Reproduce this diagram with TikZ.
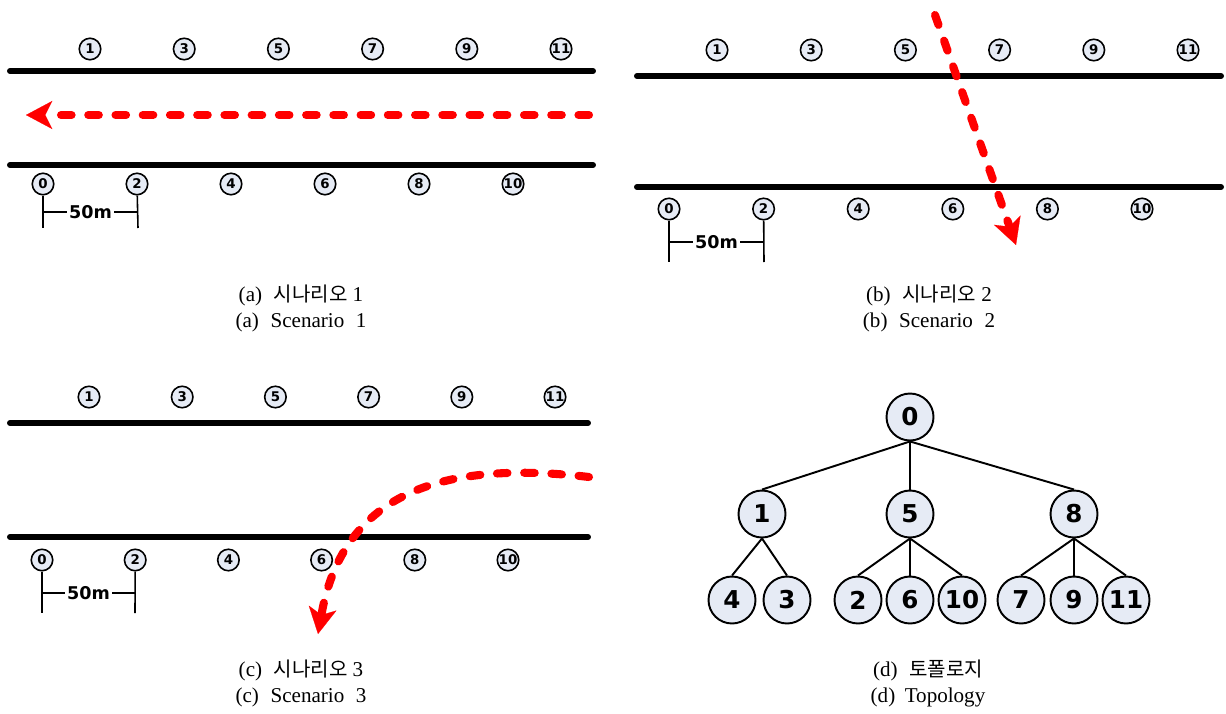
\documentclass[tikz,border=0pt]{standalone}
\usepackage{fontspec}
\setmainfont{Liberation Serif}
\newfontfamily\krfont[Scale=0.95]{Noto Sans CJK KR}
\newfontfamily\numfont{DejaVu Sans}
\usetikzlibrary{arrows.meta}
\definecolor{nodefill}{RGB}{230,235,245}
\tikzset{road/.style={line width=3.4pt,line cap=round},
        sta/.style={draw,circle,fill=nodefill,line width=0.9pt,inner sep=0pt,minimum size=0.43cm,
                    font=\numfont\bfseries\fontsize{7.6}{7.6}\selectfont},
        tnode/.style={draw,circle,fill=nodefill,line width=1.1pt,inner sep=0pt,minimum size=0.94cm,
                    font=\numfont\bfseries\fontsize{14}{14}\selectfont},
        tedge/.style={line width=1.1pt},
        route/.style={red,line width=4.6pt,line cap=round,dash pattern=on 6pt off 9.5pt,
                    -{Stealth[length=15pt,width=16pt,inset=4pt,line width=0.1pt]}},
        scalebar/.style={line width=0.9pt},
        barlabel/.style={fill=white,inner sep=1pt,font=\numfont\bfseries\fontsize{10}{10}\selectfont},
        caption/.style={align=center,font=\fontsize{12}{14.8}\selectfont}
        }

\begin{document}
\begin{tikzpicture}[x=0.02cm,y=-0.02cm]
    \useasboundingbox (0,0) rectangle (1226,713);

    % (a) 场景 1: 道路与两排节点
    \draw[road] (10,71) -- (593,71);
    \draw[road] (10,165) -- (593,165);
    \foreach \n [count=\i from 0] in {1,3,5,7,9,11}
        \node[sta] (a-\n) at (90+94.2*\i,49) {\n};
    \foreach \n [count=\i from 0] in {0,2,4,6,8,10}
        \node[sta] (a-\n) at (43+94*\i,184) {\n};
    % 比例尺
    \coordinate (a-s0) at (43,228);
    \coordinate (a-s2) at (138,228);
    \coordinate (a-h0) at (43,212);
    \coordinate (a-h2) at (138,212);
    \draw[scalebar] (a-0) -- (a-s0);
    \draw[scalebar] (a-2) -- (a-s2);
    \draw[scalebar] (a-h0) -- node[barlabel] (a-bar) {50m} (a-h2);
    % 移动路径
    \coordinate (a-p0) at (589,115);
    \coordinate (a-p1) at (26,115);
    \draw[route] (a-p0) -- (a-p1);
    \node[caption] (a-cap) at (301,308) {(a)\hspace{0.55em}{\krfont 시나리오} 1\\(a)\hspace{0.55em}Scenario\hspace{0.55em}1};

    % (b) 场景 2
    \draw[road] (637,76) -- (1221,76);
    \draw[road] (637,187) -- (1221,187);
    \foreach \n [count=\i from 0] in {1,3,5,7,9,11}
        \node[sta] (b-\n) at (717+94.2*\i,50) {\n};
    \foreach \n [count=\i from 0] in {0,2,4,6,8,10}
        \node[sta] (b-\n) at (669+94.6*\i,209) {\n};
    \coordinate (b-s0) at (669,262);
    \coordinate (b-s2) at (764,262);
    \coordinate (b-h0) at (669,242);
    \coordinate (b-h2) at (764,242);
    \draw[scalebar] (b-0) -- (b-s0);
    \draw[scalebar] (b-2) -- (b-s2);
    \draw[scalebar] (b-h0) -- node[barlabel] (b-bar) {50m} (b-h2);
    \coordinate (b-p0) at (935,15);
    \coordinate (b-p1) at (1016,245);
    \draw[route] (b-p0) -- (b-p1);
    \node[caption] (b-cap) at (929,308) {(b)\hspace{0.55em}{\krfont 시나리오} 2\\(b)\hspace{0.55em}Scenario\hspace{0.55em}2};

    % (c) 场景 3
    \draw[road] (10,423) -- (588,423);
    \draw[road] (10,537) -- (588,537);
    \foreach \n [count=\i from 0] in {1,3,5,7,9,11}
        \node[sta] (c-\n) at (89+93.2*\i,397) {\n};
    \foreach \n [count=\i from 0] in {0,2,4,6,8,10}
        \node[sta] (c-\n) at (42+93.2*\i,560) {\n};
    \coordinate (c-s0) at (42,613);
    \coordinate (c-s2) at (135,613);
    \coordinate (c-h0) at (42,593);
    \coordinate (c-h2) at (135,593);
    \draw[scalebar] (c-0) -- (c-s0);
    \draw[scalebar] (c-2) -- (c-s2);
    \draw[scalebar] (c-h0) -- node[barlabel] (c-bar) {50m} (c-h2);
    % 弯曲的移动路径
    \coordinate (c-p0) at (589,477);
    \coordinate (c-c1) at (460,462);
    \coordinate (c-c2) at (345,482);
    \coordinate (c-p1) at (318,634);
    \draw[route] (c-p0) .. controls (c-c1) and (c-c2) .. (c-p1);
    \node[caption] (c-cap) at (301,683) {(c)\hspace{0.55em}{\krfont 시나리오} 3\\(c)\hspace{0.55em}Scenario\hspace{0.55em}3};

    % (d) 拓扑结构
    \node[tnode] (t-0) at (910,417) {0};
    \node[tnode] (t-1) at (762,514) {1};
    \node[tnode] (t-5) at (910,514) {5};
    \node[tnode] (t-8) at (1074,514) {8};
    \node[tnode] (t-4) at (732,600) {4};
    \node[tnode] (t-3) at (787,600) {3};
    \node[tnode] (t-2) at (858,600) {2};
    \node[tnode] (t-6) at (910,600) {6};
    \node[tnode] (t-10) at (962,600) {10};
    \node[tnode] (t-7) at (1021,600) {7};
    \node[tnode] (t-9) at (1074,600) {9};
    \node[tnode] (t-11) at (1126,600) {11};
    \draw[tedge] (t-0.south) -- (t-1.north);
    \draw[tedge] (t-0.south) -- (t-5.north);
    \draw[tedge] (t-0.south) -- (t-8.north);
    \draw[tedge] (t-1.south) -- (t-4.north);
    \draw[tedge] (t-1.south) -- (t-3.north);
    \draw[tedge] (t-5.south) -- (t-2.north);
    \draw[tedge] (t-5.south) -- (t-6.north);
    \draw[tedge] (t-5.south) -- (t-10.north);
    \draw[tedge] (t-8.south) -- (t-7.north);
    \draw[tedge] (t-8.south) -- (t-9.north);
    \draw[tedge] (t-8.south) -- (t-11.north);
    \node[caption] (d-cap) at (928,683) {(d)\hspace{0.55em}{\krfont 토폴로지}\\(d)\hspace{0.45em}Topology};
\end{tikzpicture}
\end{document}
